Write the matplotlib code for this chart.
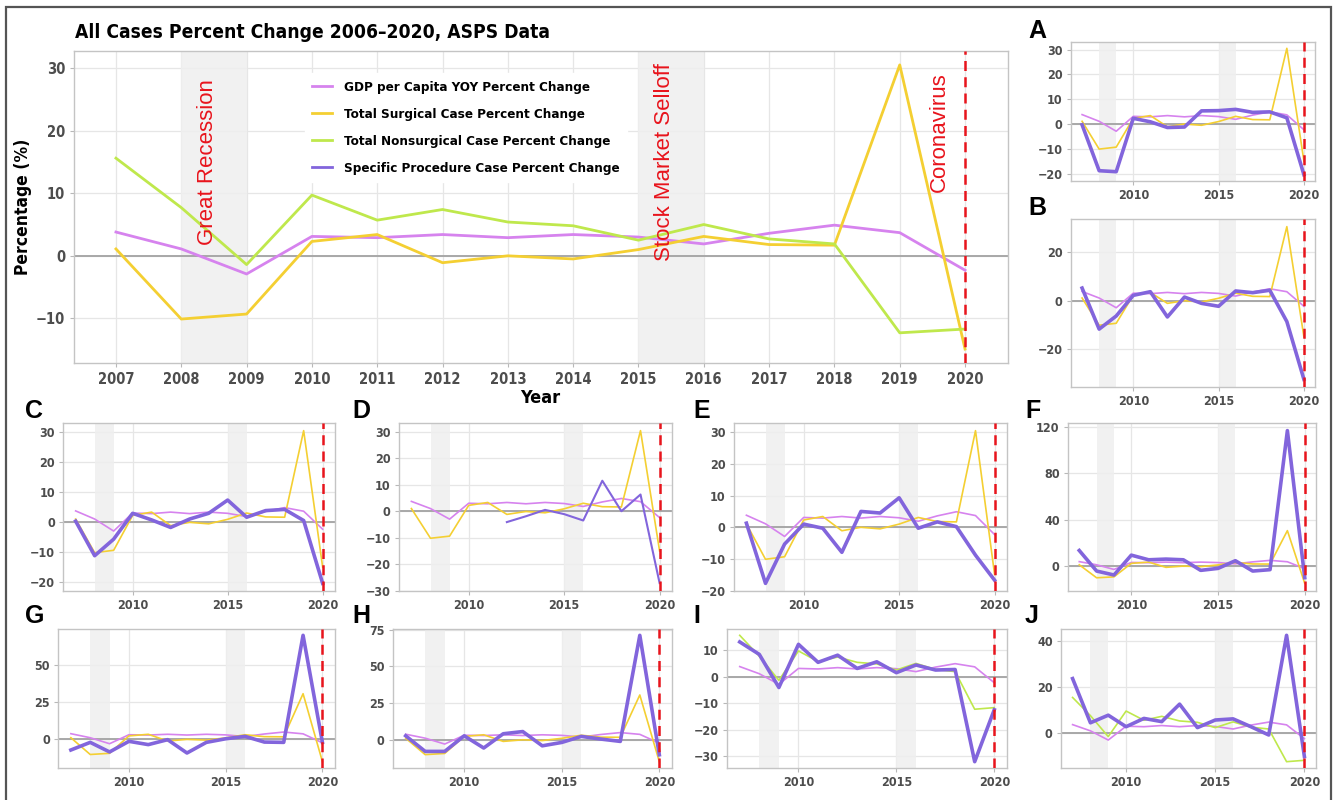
import numpy as np
import matplotlib
matplotlib.use('Agg')
import matplotlib.pyplot as plt
from matplotlib import font_manager as fm
from matplotlib.patches import Rectangle

# data
years = list(range(2007, 2021))
gdp = [3.8, 1.1, -2.9, 3.1, 2.9, 3.4, 2.9, 3.4, 3.0, 1.9, 3.6, 4.9, 3.7, -2.3]
surgical = [1.1, -10.1, -9.3, 2.3, 3.4, -1.1, 0.0, -0.5, 1.0, 3.1, 1.8, 1.7, 30.5, -14.9]
nonsurgical = [15.6, 7.7, -1.4, 9.7, 5.7, 7.4, 5.4, 4.8, 2.5, 5.0, 2.7, 1.9, -12.3, -11.7]

spec_a = [-0.3, -18.8, -19.2, 2.3, 0.9, -1.4, -1.2, 5.3, 5.4, 5.9, 4.7, 4.9, 2.5, -20.4]
spec_b = [5.2, -11.7, -6.3, 2.2, 3.7, -6.7, 1.5, -1.1, -2.3, 4.0, 3.3, 4.3, -8.6, -32.4]
spec_c = [0.4, -11.1, -5.6, 3.0, 0.8, -1.7, 1.1, 3.0, 7.4, 1.7, 3.9, 4.3, 0.6, -20.3]
spec_d = [np.nan, np.nan, np.nan, np.nan, np.nan, -4.0, -1.8, 0.6, -1.0, -3.4, 11.6, 0.1, 6.4, -27.0]
spec_e = [1.3, -17.7, -5.3, 1.0, -0.3, -7.9, 5.0, 4.5, 9.3, -0.3, 1.7, 0.2, -8.8, -16.7]
spec_f = [13.4, -4.3, -7.7, 9.4, 5.4, 6.0, 5.4, -3.7, -2.0, 4.6, -4.3, -3.1, 116.6, -10.0]
spec_g = [-7.1, -2.0, -8.4, -1.3, -3.5, -0.2, -9.1, -2.0, 0.4, 2.0, -1.8, -2.0, 69.5, -2.0]
spec_h = [2.7, -7.9, -7.9, 2.7, -5.6, 4.1, 5.6, -4.1, -1.8, 2.3, 0.5, -1.1, 71.1, -10.2]
spec_i = [13.1, 8.4, -4.1, 12.2, 5.4, 8.1, 3.1, 5.6, 1.5, 4.4, 2.5, 2.7, -32.1, -12.5]
spec_j = [23.8, 4.6, 7.9, 2.9, 6.5, 5.1, 12.7, 2.5, 5.8, 6.3, 2.9, -0.7, 42.6, -10.1]

labels = ['GDP per Capita YOY Percent Change', 'Total Surgical Case Percent Change',
          'Total Nonsurgical Case Percent Change', 'Specific Procedure Case Percent Change']
events = [('Great Recession', 2008.4, 15), ('Stock Market Selloff', 2015.4, 15), ('Coronavirus', 2019.6, 19.8)]

C_GDP = '#D683EE'
C_SURG = '#F4CF32'
C_NONS = '#BFE84C'
C_SPEC = '#8265DC'
RED = '#E8141C'

# narrow-ish font for axis text if one is around
fonts = fm.fontManager.ttflist
if any(f.name == 'Liberation Sans Narrow' for f in fonts):
    NARROW, STRETCH = 'Liberation Sans Narrow', 'normal'
elif any(f.name == 'DejaVu Sans' and f.stretch == 'condensed' and f.weight in ('bold', 700) for f in fonts):
    NARROW, STRETCH = 'DejaVu Sans', 'condensed'
else:
    NARROW, STRETCH = 'Liberation Sans', 'normal'
plt.rcParams['font.family'] = [NARROW, 'DejaVu Sans']
plt.rcParams['font.stretch'] = STRETCH

W, H = 1333, 800
fig = plt.figure(figsize=(W / 100, H / 100), dpi=100)


def box(l, t, r, b):
    return [l / W, 1 - b / H, (r - l) / W, (b - t) / H]


def base(ax, xticks, yticks, fs):
    ax.grid(True, color='#E6E6E6', linewidth=0.9)
    ax.set_axisbelow(True)
    for s in ax.spines.values():
        s.set_color('#C4C4C4')
        s.set_linewidth(1.0)
    ax.axvspan(2008, 2009, color='#EFEFEF', alpha=0.85, lw=0, zorder=1)
    ax.axvspan(2015, 2016, color='#EFEFEF', alpha=0.85, lw=0, zorder=1)
    ax.axhline(0, color='#A8A8A8', lw=1.4, zorder=2)
    ax.axvline(2020, color=RED, lw=1.8, ls=(0, (4, 2.5)), zorder=6)
    ax.set_xticks(xticks)
    ax.set_yticks(yticks)
    ax.set_xticklabels([str(v) for v in xticks])
    ax.set_yticklabels([f'{v:g}'.replace('-', '\u2212') for v in yticks])
    ax.tick_params(color='#B8B8B8', length=3, width=0.8, labelcolor='#4D4D4D', labelsize=fs, pad=3)
    plt.setp(ax.get_xticklabels() + ax.get_yticklabels(), fontweight='bold')
    ax.set_xlim(2006.35, 2020.65)


# main panel
ax = fig.add_axes(box(73.5, 50.7, 1007.5, 363.3))
l1, = ax.plot(years, gdp, color=C_GDP, lw=2.0, zorder=3)
l2, = ax.plot(years, surgical, color=C_SURG, lw=2.0, zorder=3)
l3, = ax.plot(years, nonsurgical, color=C_NONS, lw=2.0, zorder=3)
l4, = ax.plot([], [], color=C_SPEC, lw=2.0)
ax.margins(y=0.05)
base(ax, years, [-10, 0, 10, 20, 30], 10.5)
for txt, x, y in events:
    ax.text(x, y, txt, rotation=90, color=RED, fontsize=16, ha='center', va='center',
            family=['Liberation Sans', 'DejaVu Sans'], fontstretch='normal', zorder=9)
leg = ax.legend([l1, l2, l3, l4], labels, loc='upper left', bbox_to_anchor=(0.248, 0.928),
                borderaxespad=0, frameon=True, fancybox=False, edgecolor='white',
                handlelength=1.5, handletextpad=0.9, labelspacing=1.05, borderpad=0.55,
                prop={'weight': 'bold', 'size': 9.6, 'family': [NARROW, 'DejaVu Sans'], 'stretch': STRETCH})
leg.get_frame().set_alpha(1)
leg.set_zorder(8)
ax.set_xlabel('Year', fontsize=13, fontweight='bold', labelpad=2)
ax.set_ylabel('Percentage (%)', fontsize=12.5, fontweight='bold')
ax.yaxis.set_label_coords((32 - 73.5) / 934, 0.5)
fig.text(75 / W, 1 - 32 / H, 'All Cases Percent Change 2006\u20132020, ASPS Data',
         fontsize=13.8, fontweight='bold', ha='left', va='center')

# small panels: (letter, position, specific series, comparison series, colour, yticks, letter pos, lw)
panels = [
    ('A', (1071, 42, 1315, 181), spec_a, surgical, C_SURG, [-20, -10, 0, 10, 20, 30], (1028, 31), 2.6),
    ('B', (1071, 219, 1315, 387), spec_b, surgical, C_SURG, [-20, 0, 20], (1028, 208), 2.6),
    ('C', (63.3, 423, 335, 591), spec_c, surgical, C_SURG, [-20, -10, 0, 10, 20, 30], (25, 411), 2.6),
    ('D', (399, 423, 672, 591), spec_d, surgical, C_SURG, [-30, -20, -10, 0, 10, 20, 30], (352, 411), 1.5),
    ('E', (734, 423, 1007, 591), spec_e, surgical, C_SURG, [-20, -10, 0, 10, 20, 30], (693, 411), 2.6),
    ('F', (1068, 423, 1316, 591), spec_f, surgical, C_SURG, [0, 40, 80, 120], (1025, 411), 2.6),
    ('G', (58.3, 629, 335, 768), spec_g, surgical, C_SURG, [0, 25, 50], (25, 616), 2.6),
    ('H', (393, 629, 672, 768), spec_h, surgical, C_SURG, [0, 25, 50, 75], (352, 616), 2.6),
    ('I', (727, 629, 1007, 768), spec_i, nonsurgical, C_NONS, [-30, -20, -10, 0, 10], (693, 616), 2.6),
    ('J', (1061, 629, 1316, 768), spec_j, nonsurgical, C_NONS, [0, 20, 40], (1025, 616), 2.6),
]

for letter, pos, spec, other, oc, yt, lp, lw in panels:
    a = fig.add_axes(box(*pos))
    a.plot(years, gdp, color=C_GDP, lw=1.2, zorder=3)
    a.plot(years, other, color=oc, lw=1.2, zorder=3)
    a.plot(years, spec, color=C_SPEC, lw=lw, zorder=4)
    a.margins(y=0.05)
    base(a, [2010, 2015, 2020], yt, 9)
    fig.text(lp[0] / W, 1 - lp[1] / H, letter, fontsize=18, fontweight='bold',
             family=['Liberation Sans', 'DejaVu Sans'], fontstretch='normal', ha='left', va='center')

fig.add_artist(Rectangle((6 / W, -0.02), (1331 - 6) / W, 1 - 7 / H + 0.02, transform=fig.transFigure,
                         fill=False, edgecolor='#555555', lw=1.6))

fig.savefig('out.png', dpi=100)
